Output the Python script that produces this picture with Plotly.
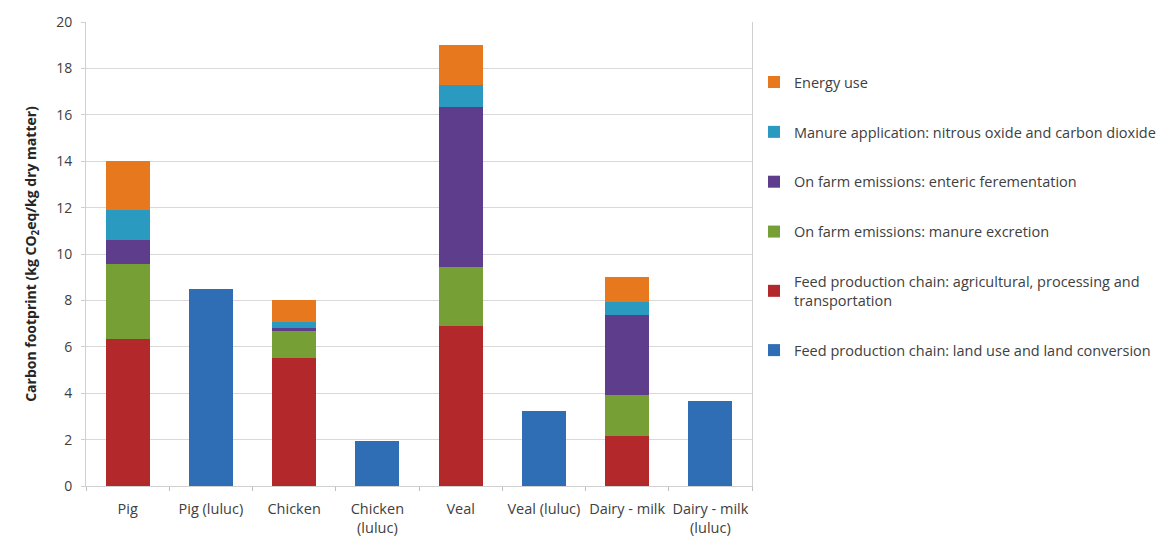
import plotly.graph_objects as go

categories = ["Pig", "Pig (luluc)", "Chicken", "Chicken<br>(luluc)", "Veal",
              "Veal (luluc)", "Dairy - milk", "Dairy - milk<br>(luluc)"]

# Carbon footprint components (kg CO2eq / kg dry matter)
land_use = [0, 8.5, 0, 1.95, 0, 3.25, 0, 3.67]
feed_chain = [6.35, 0, 5.5, 0, 6.9, 0, 2.15, 0]
manure_excretion = [3.2, 0, 1.2, 0, 2.55, 0, 1.78, 0]
enteric = [1.05, 0, 0.1, 0, 6.9, 0, 3.45, 0]
manure_application = [1.3, 0, 0.25, 0, 0.95, 0, 0.57, 0]
energy_use = [2.1, 0, 0.95, 0, 1.7, 0, 1.05, 0]

# stacked bottom to top
series = [
    ("Feed production chain: land use and land conversion", land_use, "#2F6DB5"),
    ("Feed production chain: agricultural, processing and<br>transportation", feed_chain, "#B3292B"),
    ("On farm emissions: manure excretion", manure_excretion, "#76A035"),
    ("On farm emissions: enteric ferementation", enteric, "#5E3E8C"),
    ("Manure application: nitrous oxide and carbon dioxide", manure_application, "#2B9AC0"),
    ("Energy use", energy_use, "#E8781E"),
]

fig = go.Figure()
n = len(series)
for i, (name, vals, color) in enumerate(series):
    fig.add_trace(go.Bar(
        x=categories, y=vals, name=name, legendgroup=f"g{i}",
        legendrank=n - i,
        marker=dict(color=color, line=dict(width=0)),
    ))

font = "'Open Sans', sans-serif"
fig.update_layout(
    barmode="stack",
    bargap=0.47,
    width=1173, height=550,
    margin=dict(l=86, r=420, t=18, b=64),
    paper_bgcolor="white", plot_bgcolor="white",
    font=dict(family=font, size=14, color="#404040"),
    showlegend=True,
    legend=dict(
        traceorder="grouped",
        x=1.003, xanchor="left", y=0.905, yanchor="top",
        font=dict(size=14.5, color="#404040"),
        tracegroupgap=28,
        itemwidth=30,
    ),
    xaxis=dict(
        showgrid=False, ticks="outside", tickson="boundaries", ticklen=4,
        tickcolor="#BFBFBF", showline=True, linecolor="#D0D0D0",
        tickfont=dict(size=14.5, color="#404040"), ticklabelstandoff=10,
        tickangle=0,
    ),
    yaxis=dict(
        range=[0, 20], dtick=2, showgrid=True, gridcolor="#D9D9D9",
        showline=True, linecolor="#D0D0D0", mirror=True,
        ticks="outside", ticklen=4, tickcolor="#D0D0D0",
        tickfont=dict(size=14, color="#404040"), zeroline=False,
        ticklabelstandoff=6,
        title=dict(text="<b>Carbon footprint (kg CO<sub>2</sub>eq/kg dry matter)</b>",
                   font=dict(size=14, color="#262626"), standoff=16),
    ),
)

fig.write_html("out.html")
